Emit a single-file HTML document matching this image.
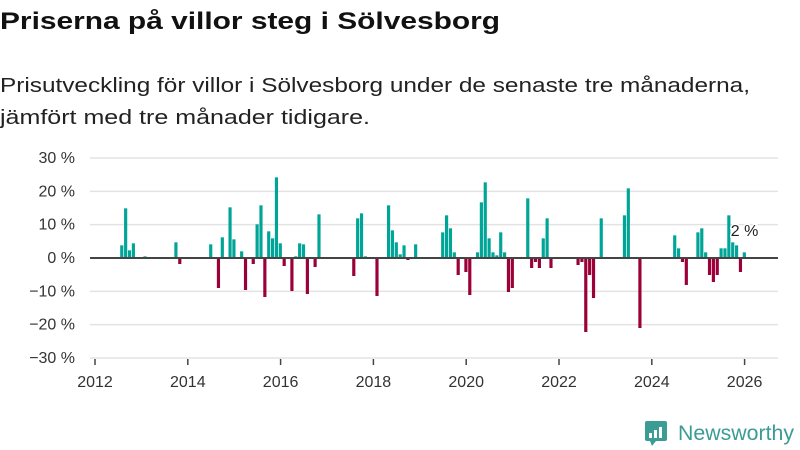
<!DOCTYPE html>
<html><head><meta charset="utf-8"><style>
html,body{margin:0;padding:0;background:#fff;}
svg{display:block;font-family:"Liberation Sans",sans-serif;}
</style></head><body>
<svg id="chart" width="800" height="450" viewBox="0 0 800 450">
<text x="0" y="29" font-size="24" font-weight="bold" fill="#111" textLength="500" lengthAdjust="spacingAndGlyphs">Priserna på villor steg i Sölvesborg</text>
<text x="0" y="92" font-size="20" fill="#222" textLength="750" lengthAdjust="spacingAndGlyphs">Prisutveckling för villor i Sölvesborg under de senaste tre månaderna,</text>
<text x="0" y="124" font-size="20" fill="#222" textLength="370" lengthAdjust="spacingAndGlyphs">jämfört med tre månader tidigare.</text>
<g id="grid"></g><g id="bars"></g><g id="axes"></g>
<g>
<rect x="645" y="421" width="22" height="20" rx="2" fill="#3a9c94"/>
<polygon points="650,441 656,441 652,446" fill="#3a9c94"/>
<rect x="649" y="433" width="3" height="5" fill="#fff"/><rect x="654" y="430" width="3" height="8" fill="#fff"/><rect x="659" y="427" width="3" height="11" fill="#fff"/>
<text x="678" y="440" font-size="21" fill="#3a9c94" textLength="116" lengthAdjust="spacingAndGlyphs">Newsworthy</text>
</g>
</svg>
<script>
const months=["2012-07","2012-08","2012-09","2012-10","2013-01","2013-09","2013-10","2014-06","2014-08","2014-09","2014-11","2014-12","2015-02","2015-03","2015-05","2015-06","2015-07","2015-08","2015-09","2015-10","2015-11","2015-12","2016-01","2016-03","2016-04","2016-05","2016-06","2016-07","2016-09","2016-10","2017-07","2017-08","2017-09","2017-10","2018-01","2018-04","2018-05","2018-06","2018-07","2018-08","2018-09","2018-11","2019-06","2019-07","2019-08","2019-09","2019-10","2019-12","2020-01","2020-03","2020-04","2020-05","2020-06","2020-07","2020-08","2020-09","2020-10","2020-11","2020-12","2021-04","2021-05","2021-06","2021-07","2021-08","2021-09","2021-10","2022-05","2022-06","2022-07","2022-08","2022-09","2022-11","2023-05","2023-06","2023-09","2024-06","2024-07","2024-08","2024-09","2024-12","2025-01","2025-02","2025-03","2025-04","2025-05","2025-06","2025-07","2025-08","2025-09","2025-10","2025-11","2025-12"];
const values=[3.8,14.9,2.3,4.4,0.5,4.7,-1.8,4.1,-9,6.2,15.2,5.6,2,-9.6,-1.8,10.1,15.8,-11.7,8,5.9,24.2,4.4,-2.4,-9.9,0.5,4.4,4.1,-10.8,-2.7,13.1,-5.4,11.9,13.4,0.5,-11.4,15.8,8.3,4.7,1.1,3.8,-0.6,4.1,7.7,12.8,8.9,1.7,-5.1,-4.2,-11.1,1.7,16.7,22.7,5.9,1.7,0.8,7.7,1.7,-10.2,-9,17.9,-3,-1.2,-3,5.9,11.9,-3,-2.1,-1.2,-22.2,-5.1,-12,11.9,12.8,20.9,-21,6.8,2.9,-1.2,-8.1,7.7,8.9,1.7,-5.1,-7.2,-5.1,2.9,2.9,12.8,4.7,3.8,-4.2,1.7];
const yTicks=[30,20,10,0,-10,-20,-30];
const xTicks=[2012,2014,2016,2018,2020,2022,2024,2026];
const NS="http://www.w3.org/2000/svg";
function y(v){return 258-v*(100/30);}
function x(t){return 95+(t-2012)*46.4;}
function mk(tag,attrs,parent){const e=document.createElementNS(NS,tag);for(const k in attrs)e.setAttribute(k,attrs[k]);parent.appendChild(e);return e;}
const grid=document.getElementById('grid'),bars=document.getElementById('bars'),axes=document.getElementById('axes');
yTicks.forEach(t=>{
  if(t!==0){const l=mk('line',{x1:90,x2:778,y1:y(t),y2:y(t),stroke:'#e3e3e3','stroke-width':1.5},grid);
  
  }
  const tx=mk('text',{x:75,y:y(t)+5,'font-size':16,fill:'#333','text-anchor':'end'},axes);
  tx.textContent=(t<0?'−'+(-t):t)+' %';
  
  
});
xTicks.forEach(t=>{
  const tk=mk('line',{x1:x(t),x2:x(t),y1:359,y2:365,stroke:'#444','stroke-width':1.5},axes);
  
  
  const tx=mk('text',{x:x(t),y:387,'font-size':16,fill:'#333','text-anchor':'middle'},axes);
  tx.textContent=t;
  
  
});
const mw=46.4/12;
months.forEach((m,i)=>{
  const [yy,mm]=m.split('-').map(Number);
  const t=yy+(mm-1)/12;
  const v=values[i];
  const r=mk('rect',{x:x(t)+2,width:mw*0.82,y:Math.min(y(v),y(0)),height:Math.abs(y(v)-y(0)),fill:v>=0?'#00a598':'#9b0038'},bars);
  
  
});
const z=mk('line',{x1:90,x2:778,y1:258,y2:258,stroke:'#444','stroke-width':2},axes);


const lm=months[months.length-1].split('-').map(Number);
const lt=lm[0]+(lm[1]-1)/12;
const lab=mk('text',{x:x(lt)-10,y:236,'font-size':16,fill:'#222',stroke:'#fff','stroke-width':3,'paint-order':'stroke'},axes);
lab.textContent=Math.round(values[values.length-1])+' %';


</script>
</body></html>
